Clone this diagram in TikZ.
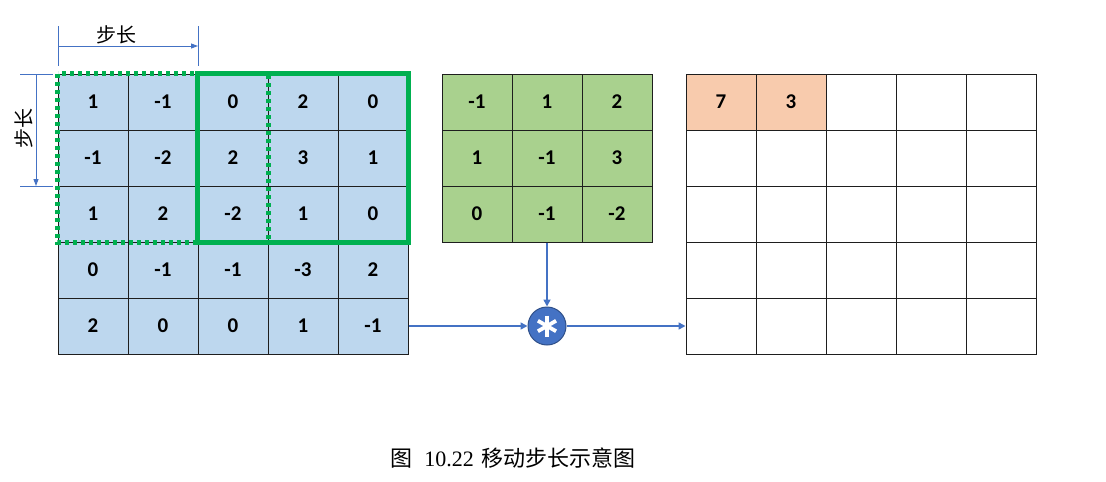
\documentclass[tikz,border=0pt]{standalone}
\usepackage{fontspec}
\setmainfont{Carlito}
\newfontfamily\cjk{Noto Sans CJK SC}
\newfontfamily\capnum{Liberation Serif}
\usetikzlibrary{arrows.meta, positioning, calc}

\definecolor{cellblue}{RGB}{189,215,238}
\definecolor{kergreen}{RGB}{169,209,142}
\definecolor{outorange}{RGB}{248,203,173}
\definecolor{framegreen}{RGB}{0,176,80}
\definecolor{linkblue}{RGB}{68,114,196}
\definecolor{gridline}{RGB}{30,30,30}

\begin{document}
\begin{tikzpicture}[
        x=1pt, y=-1pt,
        cell/.style={rectangle, draw=gridline, line width=1pt, minimum width=70pt, minimum height=56pt, inner sep=0pt, font=\fontsize{21}{21}\selectfont\bfseries},
        incell/.style={cell, fill=cellblue},
        kercell/.style={cell, fill=kergreen},
        outcell/.style={cell, fill=white},
        hitcell/.style={cell, fill=outorange},
        window/.style={draw=framegreen, line width=4.5pt, dash pattern=on 4pt off 4pt},
        window now/.style={draw=framegreen, line width=5pt},
        link/.style={-{Triangle[length=7pt, width=7pt]}, draw=linkblue, line width=1.6pt},
        dimline/.style={draw=linkblue, line width=0.9pt},
        dimarrow/.style={-{Triangle[length=7pt, width=5pt]}, draw=linkblue, line width=0.9pt},
        conv/.style={circle, fill=linkblue, draw=linkblue!70!black, line width=1pt, minimum size=38pt, inner sep=0pt,
            path picture={
                \foreach \a in {30,90,150} {
                    \draw[white, line width=3.8pt] ($(path picture bounding box.center)+(\a:10.5pt)$) -- ($(path picture bounding box.center)+(\a+180:10.5pt)$);
                }
            }},
        steplabel/.style={font=\cjk\fontsize{20}{20}\selectfont, inner sep=0pt}
    ]
        \useasboundingbox (0,0) rectangle (1106,482);

        % input feature map
        \foreach \row [count=\r] in {{1,-1,0,2,0},{-1,-2,2,3,1},{1,2,-2,1,0},{0,-1,-1,-3,2},{2,0,0,1,-1}} {
            \foreach \v [count=\c] in \row {
                \node[incell] (in-\r-\c) at (23+70*\c, 46+56*\r) {\v};
            }
        }

        % kernel
        \foreach \row [count=\r] in {{-1,1,2},{1,-1,3},{0,-1,-2}} {
            \foreach \v [count=\c] in \row {
                \node[kercell] (ker-\r-\c) at (407+70*\c, 46+56*\r) {\v};
            }
        }

        % output map
        \foreach \r in {1,...,5} {
            \foreach \c in {1,...,5} {
                \node[outcell] (out-\r-\c) at (651+70*\c, 46+56*\r) {};
            }
        }
        \node[hitcell] (out-1-1) at (out-1-1) {7};
        \node[hitcell] (out-1-2) at (out-1-2) {3};

        % sliding windows
        \draw[window] (in-1-1.north west) rectangle (in-3-3.south east);
        \draw[window now] (in-1-3.north west) rectangle (in-3-5.south east);

        % convolution
        \node[conv] (op) at (547,326) {};
        \draw[link] (in-5-5.east) -- (op);
        \draw[link] (ker-3-2.south) -- (op);
        \draw[link] (op) -- (out-5-1.west);

        % stride marks
        \coordinate (hA0) at (58,26);
        \coordinate (hA1) at (58,66);
        \coordinate (hB0) at (198,26);
        \coordinate (hB1) at (198,66);
        \coordinate (hS) at (58,46);
        \coordinate (hE) at (198,46);
        \draw[dimline] (hA0) -- (hA1);
        \draw[dimline] (hB0) -- (hB1);
        \draw[dimarrow] (hS) -- (hE);
        \node[steplabel] (hlabel) at (116,35) {步长};

        \coordinate (vA0) at (20,74);
        \coordinate (vA1) at (53,74);
        \coordinate (vB0) at (20,186);
        \coordinate (vB1) at (53,186);
        \coordinate (vS) at (36,74);
        \coordinate (vE) at (36,186);
        \draw[dimline] (vA0) -- (vA1);
        \draw[dimline] (vB0) -- (vB1);
        \draw[dimarrow] (vS) -- (vE);
        \node[steplabel, rotate=90] (vlabel) at (24,128) {步长};

        % caption
        \node[font=\fontsize{22}{22}\selectfont, inner sep=0pt] (caption) at (513,458)
            {\cjk 图\hspace{12pt}{\capnum 10.22}\hspace{8pt}移动步长示意图};
    \end{tikzpicture}
\end{document}
